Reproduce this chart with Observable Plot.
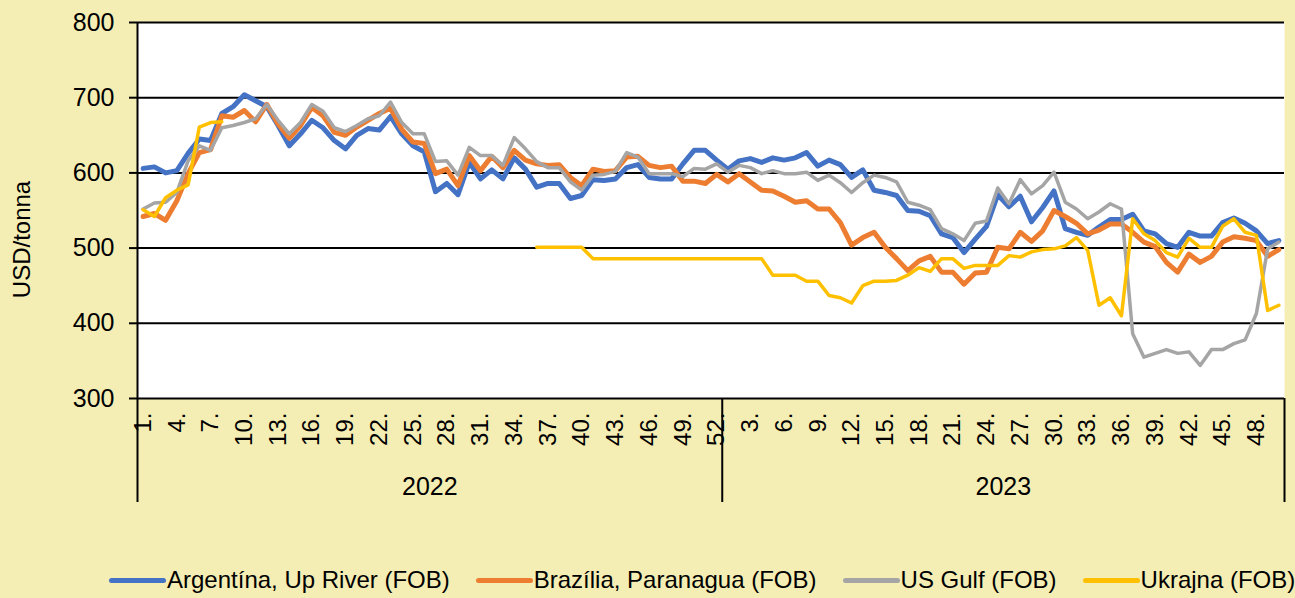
<!DOCTYPE html>
<html>
<head>
<meta charset="utf-8">
<script src="https://cdn.jsdelivr.net/npm/d3@7"></script>
<script src="https://cdn.jsdelivr.net/npm/@observablehq/plot@0.6"></script>
<style>
  html, body { margin: 0; padding: 0; background: #F4EEB4; }
  body { font-family: Arial, "Liberation Sans", sans-serif; color: #000; }
  #chart { position: relative; width: 1295px; height: 598px; overflow: hidden; background: #F4EEB4; }
  #chart svg { position: absolute; left: 0; top: 0; }
  .legend { position: absolute; left: 109px; top: 566px; height: 28px; display: flex; align-items: center; font-size: 24px; white-space: nowrap; }
  .item { display: flex; align-items: center; margin-right: 26px; }
  .sw { width: 57px; height: 5px; border-radius: 3px; margin-right: 1px; }
</style>
</head>
<body>
<div id="chart"></div>
<script>
// ---- categories ----
const years = ["2022", "2023"];
const weeksInYear = [52, 50];

// ---- series (USD/tonna), one value per week: 2022 w1..w52, 2023 w1..w50 ----
const argentina = [
  606, 608, 600, 603, 626, 645, 643, 679, 688, 704, 696, 688, 663, 636, 652, 670, 660, 643, 632, 650,
  659, 657, 675, 652, 636, 628, 575, 586, 571, 614, 592, 604, 592, 620, 605, 581, 586, 586, 566, 570,
  591, 590, 592, 607, 611, 594, 592, 592, 612, 630, 630, 617,
  605, 616, 619, 614, 620, 617, 620, 627, 609, 617, 611, 594, 604, 577, 574, 570, 550, 549, 543, 519,
  514, 494, 512, 529, 571, 555, 569, 535, 554, 576, 526, 521, 517, 528, 538, 538, 545, 523, 519, 506,
  501, 521, 516, 516, 534, 540, 533, 523, 506, 510
];
const brazil = [
  542, 546, 537, 563, 599, 627, 631, 676, 674, 683, 668, 691, 665, 646, 663, 687, 676, 654, 650, 661,
  670, 679, 686, 658, 641, 639, 599, 605, 583, 623, 603, 622, 607, 630, 617, 612, 610, 611, 594, 583,
  605, 602, 603, 621, 622, 610, 607, 609, 589, 589, 586, 598,
  588, 599, 588, 577, 576, 569, 561, 563, 552, 552, 534, 504, 514, 521, 501, 486, 470, 483, 489, 468,
  468, 452, 467, 468, 501, 499, 521, 509, 523, 550, 542, 533, 519, 524, 532, 532, 521, 508, 502, 481,
  468, 492, 481, 489, 508, 515, 513, 510, 489, 498
];
const usGulf = [
  552, 560, 561, 574, 616, 636, 630, 660, 663, 667, 672, 691, 670, 652, 667, 691, 682, 660, 655, 663,
  672, 676, 694, 667, 652, 652, 615, 616, 597, 634, 623, 623, 610, 647, 632, 615, 607, 607, 588, 577,
  597, 598, 602, 627, 621, 599, 599, 599, 595, 606, 605, 612,
  601, 610, 607, 599, 603, 599, 599, 601, 590, 597, 587, 574, 587, 597, 594, 588, 561, 557, 551, 526,
  519, 510, 533, 536, 580, 559, 591, 572, 583, 601, 561, 552, 539, 548, 559, 552, 386, 355, 360, 365,
  360, 362, 344, 365, 365, 373, 378, 413, 499, 508
];
const ukraine = [
  551, 542, 567, 577, 584, 661, 667, 668, null, null, null, null, null, null, null, null, null, null, null, null,
  null, null, null, null, null, null, null, null, null, null, null, null, null, null, null, 501, 501, 501, 501, 501,
  486, 486, 486, 486, 486, 486, 486, 486, 486, 486, 486, 486,
  486, 486, 486, 486, 464, 464, 464, 456, 456, 437, 434, 427, 450, 456, 456, 457, 464, 474, 469, 486,
  486, 473, 477, 477, 477, 490, 488, 495, 498, 499, 503, 514, 497, 424, 434, 410, 539, 519, 510, 494,
  488, 513, 501, 501, 529, 539, 521, 517, 417, 424
];

const seriesNames = ["Argentína, Up River (FOB)", "Brazília, Paranagua (FOB)", "US Gulf (FOB)", "Ukrajna (FOB)"];
const seriesColors = ["#4472C4", "#ED7D31", "#A5A5A5", "#FFC000"];
const seriesWidths = [5, 5, 3.5, 3.5];
const yTicks = [300, 400, 500, 600, 700, 800];

// ---- build tables ----
const categories = [];
years.forEach((y, k) => { for (let w = 1; w <= weeksInYear[k]; w++) categories.push({ year: y, week: w }); });
const allSeries = [argentina, brazil, usGulf, ukraine];
const tables = allSeries.map((vals, s) => vals.map((v, i) => ({ i, series: seriesNames[s], value: v == null ? NaN : v })));
const tickIdx = categories.map((d, i) => i).filter(i => i % 3 === 0);
const n = categories.length;
let start = 0;
const yearCenters = years.map((y, k) => { const c = start + (weeksInYear[k] - 1) / 2; start += weeksInYear[k]; return { year: y, c }; });
const boundaries = [];
start = 0;
weeksInYear.forEach(w => { start += w; boundaries.push(start - 0.5); });

const chart = Plot.plot({
  width: 1295,
  height: 550,
  marginLeft: 137,
  marginRight: 11,
  marginTop: 22,
  marginBottom: 152,
  style: { background: "transparent", fontFamily: "Arial, 'Liberation Sans', sans-serif", color: "black", overflow: "visible" },
  x: { type: "linear", domain: [-0.5, n - 0.5] },
  y: { domain: [300, 800] },
  marks: [
    Plot.frame({ fill: "white", stroke: "none" }),
    Plot.ruleY(yTicks, { stroke: "black", strokeWidth: 2 }),
    Plot.ruleX([-0.5], { stroke: "black", strokeWidth: 2, insetBottom: -104 }),
    Plot.ruleX(boundaries, { stroke: "black", strokeWidth: 2, insetTop: 376, insetBottom: -104 }),
    Plot.axisY(yTicks, { tickSize: 8, tickPadding: 15, fontSize: 25, strokeWidth: 2, label: null, tickFormat: d => String(d) }),
    Plot.axisX(tickIdx, {
      tickFormat: i => categories[i].week + ".",
      rotate: -90, textAnchor: "end", lineAnchor: "middle",
      tickSize: 0, tickPadding: 14, fontSize: 24, label: null
    }),
    Plot.text(yearCenters, { x: "c", text: "year", frameAnchor: "bottom", dy: 88, fontSize: 25, lineAnchor: "middle", textAnchor: "middle" }),
    Plot.text(["USD/tonna"], { frameAnchor: "left", rotate: -90, dx: -115, dy: 29, fontSize: 24, textAnchor: "middle", lineAnchor: "middle" }),
    ...tables.map((t, s) => Plot.line(t, {
      x: "i", y: "value", stroke: seriesColors[s], strokeWidth: seriesWidths[s],
      strokeLinejoin: "round", strokeLinecap: "round"
    }))
  ]
});

const host = document.getElementById("chart");
host.appendChild(chart);

const legend = document.createElement("div");
legend.className = "legend";
seriesNames.forEach((name, s) => {
  const item = document.createElement("div");
  item.className = "item";
  const sw = document.createElement("span");
  sw.className = "sw";
  sw.style.background = seriesColors[s];
  const tx = document.createElement("span");
  tx.textContent = name;
  item.appendChild(sw);
  item.appendChild(tx);
  legend.appendChild(item);
});
host.appendChild(legend);
</script>
</body>
</html>
